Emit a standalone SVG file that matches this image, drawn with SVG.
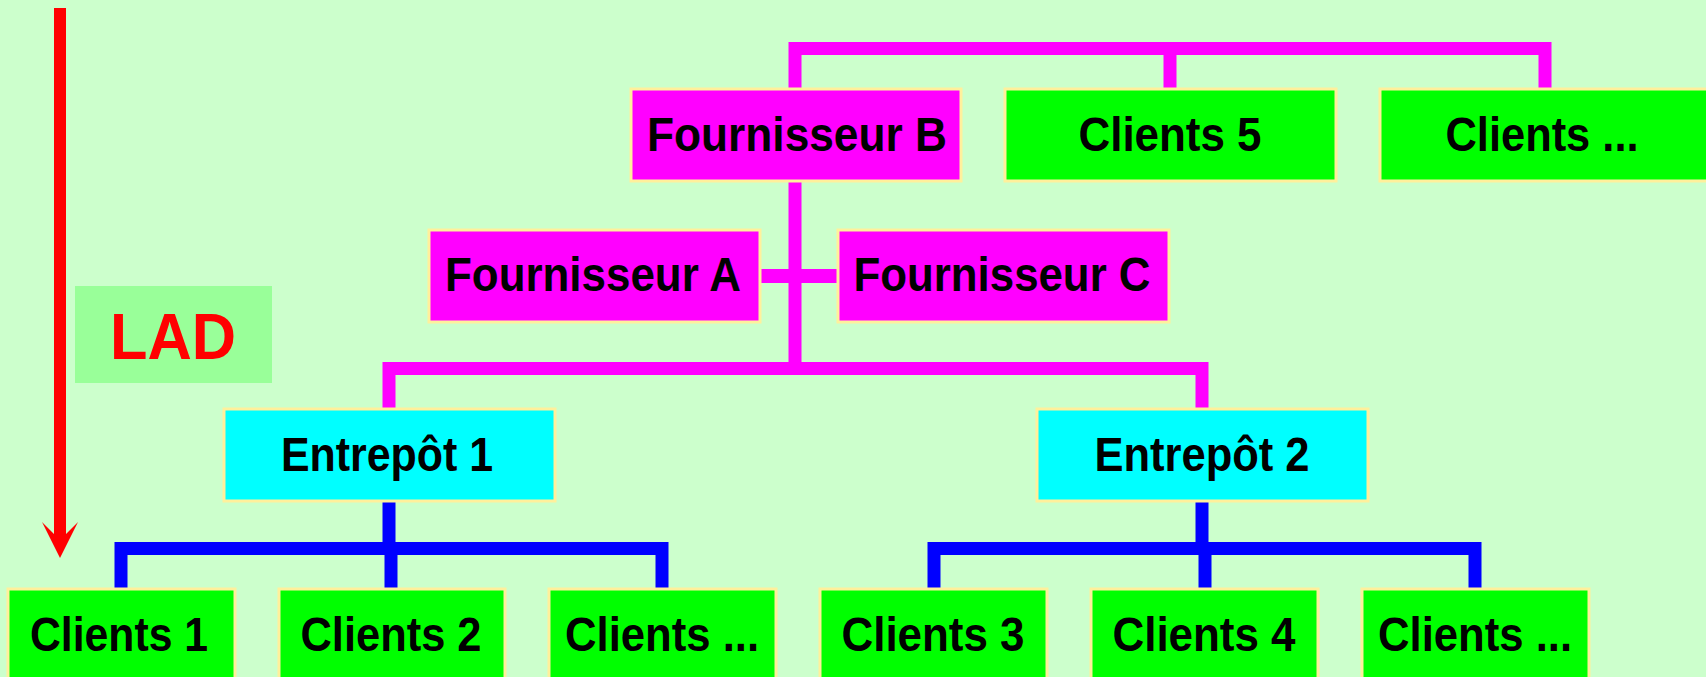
<svg xmlns="http://www.w3.org/2000/svg" width="1706" height="677" viewBox="0 0 1706 677">
<style>
.box{stroke:#fff09c;stroke-width:3}
.mag{fill:#ff00ff}.grn{fill:#00ff00}.cyn{fill:#00ffff}
.t{font-family:"Liberation Sans",Arial,sans-serif;font-weight:bold;font-size:48px;fill:#000;text-anchor:middle}
.cm{fill:none;stroke:#ff00ff;stroke-width:13;stroke-linejoin:miter}
.cb{fill:none;stroke:#0000ff;stroke-width:13;stroke-linejoin:miter}
</style>
<rect width="1706" height="677" fill="#ccffcc"/>
<g id="connectors">
<path class="cm" d="M795 89 V48.5 H1545 V89"/>
<path class="cm" d="M1170 48.5 V89"/>
<path class="cm" d="M795 182 V368.5"/>
<path class="cm" d="M760 276 H837" style="stroke-width:14"/>
<path class="cm" d="M389 409 V368.5 H1202 V409"/>
<path class="cb" d="M389 502 V548.5"/>
<path class="cb" d="M121 589 V548.5 H662 V589"/>
<path class="cb" d="M391 548.5 V589"/>
<path class="cb" d="M1202 502 V548.5"/>
<path class="cb" d="M934 589 V548.5 H1475 V589"/>
<path class="cb" d="M1205 548.5 V589"/>
</g>
<g id="lad-arrow">
<polygon points="54,8 66,8 66,534 78,522 60,558 42,522 54,534" fill="#ff0000"/>
</g>
<g id="lad">
<rect x="75" y="286" width="197" height="97" fill="#99ff99"/>
<text x="173" y="359" font-family="Liberation Sans,Arial,sans-serif" font-weight="bold" font-size="64" fill="#ff0000" text-anchor="middle" textLength="126" lengthAdjust="spacingAndGlyphs">LAD</text>
</g>
<g id="fournisseur-b"><rect class="box mag" x="631" y="89" width="330" height="92"/><text class="t" x="797" y="151" textLength="300" lengthAdjust="spacingAndGlyphs">Fournisseur B</text></g>
<g id="clients-5"><rect class="box grn" x="1005" y="89" width="331" height="92"/><text class="t" x="1170" y="151" textLength="183" lengthAdjust="spacingAndGlyphs">Clients 5</text></g>
<g id="clients-top-etc"><rect class="box grn" x="1380" y="89" width="340" height="92"/><text class="t" x="1542" y="151" textLength="193" lengthAdjust="spacingAndGlyphs">Clients ...</text></g>
<g id="fournisseur-a"><rect class="box mag" x="429" y="230" width="331" height="92"/><text class="t" x="593" y="291" textLength="296" lengthAdjust="spacingAndGlyphs">Fournisseur A</text></g>
<g id="fournisseur-c"><rect class="box mag" x="838" y="230" width="331" height="92"/><text class="t" x="1002" y="291" textLength="297" lengthAdjust="spacingAndGlyphs">Fournisseur C</text></g>
<g id="entrepot-1"><rect class="box cyn" x="224" y="409" width="331" height="92"/><text class="t" x="387" y="471" textLength="212" lengthAdjust="spacingAndGlyphs">Entrepôt 1</text></g>
<g id="entrepot-2"><rect class="box cyn" x="1037" y="409" width="331" height="92"/><text class="t" x="1202" y="471" textLength="215" lengthAdjust="spacingAndGlyphs">Entrepôt 2</text></g>
<g id="clients-1"><rect class="box grn" x="8" y="589" width="227" height="100"/><text class="t" x="119" y="651" textLength="178" lengthAdjust="spacingAndGlyphs">Clients 1</text></g>
<g id="clients-2"><rect class="box grn" x="279" y="589" width="226" height="100"/><text class="t" x="391" y="651" textLength="181" lengthAdjust="spacingAndGlyphs">Clients 2</text></g>
<g id="clients-etc-1"><rect class="box grn" x="549" y="589" width="227" height="100"/><text class="t" x="662" y="651" textLength="194" lengthAdjust="spacingAndGlyphs">Clients ...</text></g>
<g id="clients-3"><rect class="box grn" x="820" y="589" width="227" height="100"/><text class="t" x="933" y="651" textLength="183" lengthAdjust="spacingAndGlyphs">Clients 3</text></g>
<g id="clients-4"><rect class="box grn" x="1091" y="589" width="227" height="100"/><text class="t" x="1204" y="651" textLength="183" lengthAdjust="spacingAndGlyphs">Clients 4</text></g>
<g id="clients-etc-2"><rect class="box grn" x="1362" y="589" width="227" height="100"/><text class="t" x="1475" y="651" textLength="194" lengthAdjust="spacingAndGlyphs">Clients ...</text></g>
</svg>
